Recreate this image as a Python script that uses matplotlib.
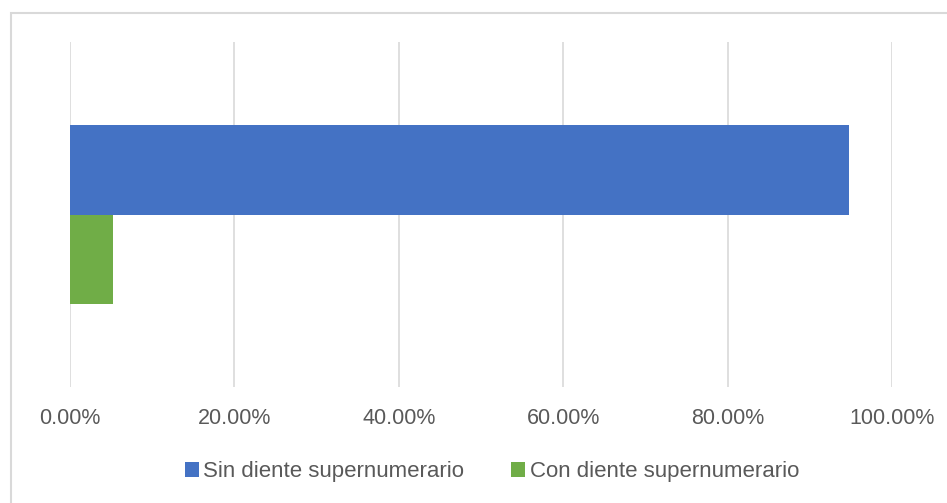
import matplotlib
matplotlib.use('Agg')
import matplotlib.pyplot as plt
from matplotlib.ticker import PercentFormatter, MultipleLocator
from matplotlib.patches import Rectangle

series = ['Sin diente supernumerario', 'Con diente supernumerario']
values = [94.74, 5.26]
colors = ['#4472C4', '#70AD47']

plt.rcParams['font.family'] = ['Liberation Sans', 'DejaVu Sans']

fig = plt.figure(figsize=(9.47, 5.03), dpi=100)
ax = fig.add_axes([70 / 947, 116 / 503, 822 / 947, 345 / 503])

# outer chart frame (only top and left fall inside the picture)
fig.patches.append(Rectangle((11 / 947, -0.1), 1.2, (503 - 13) / 503 + 0.1,
                             transform=fig.transFigure, fill=False,
                             edgecolor='#D9D9D9', linewidth=1.5))

height = 0.26
offsets = [height / 2, -height / 2]
for name, val, col, off in zip(series, values, colors, offsets):
    ax.barh(off, val, height=height, color=col, label=name)

ax.set_xlim(0, 100)
ax.set_ylim(-0.5, 0.5)
ax.xaxis.set_major_locator(MultipleLocator(20))
ax.xaxis.set_major_formatter(PercentFormatter(decimals=2))
ax.set_yticks([])
ax.grid(axis='x', color='#D9D9D9', linewidth=1.2)
ax.set_axisbelow(True)
for s in ax.spines.values():
    s.set_visible(False)
ax.tick_params(axis='x', length=0, pad=15, labelsize=15.5, labelcolor='#595959')

fig.legend(loc='center', bbox_to_anchor=(492 / 947, 31 / 503), ncol=2, frameon=False,
           fontsize=16, labelcolor='#595959', handlelength=0.64, handleheight=0.64,
           handletextpad=0.2, columnspacing=2.1, borderpad=0)

fig.savefig('out.png', dpi=100)
